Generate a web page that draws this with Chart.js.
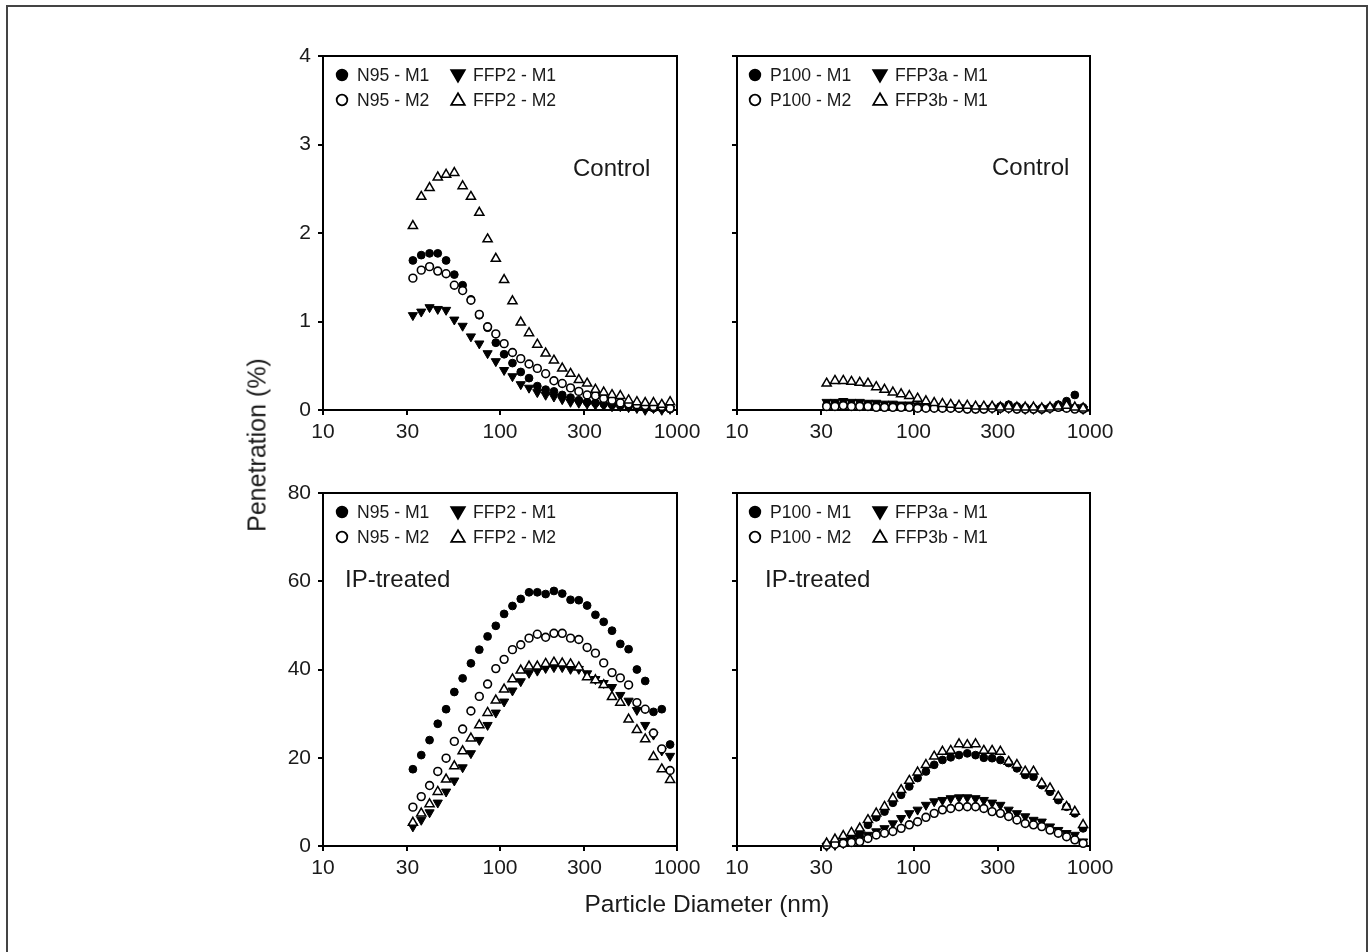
<!DOCTYPE html>
<html>
<head>
<meta charset="utf-8">
<script src="https://cdn.jsdelivr.net/npm/chart.js@4.4.1/dist/chart.umd.min.js"></script>
<style>
  body { margin: 0; background: #fff; width: 1372px; height: 952px; position: relative; overflow: hidden;
         font-family: 'Liberation Sans', Arial, sans-serif; }
  .marco { position: absolute; left: 6px; top: 5px; width: 1358px; height: 1000px; border: 2px solid #444; }
  canvas { position: absolute; }
  .titulo { position: absolute; color: #1a1a1a; white-space: nowrap; font-size: 25px; }
  #tituloY { left: 257px; top: 445px; transform: translate(-50%, -50%) rotate(-90deg); }
  #tituloX { left: 707px; top: 904px; transform: translate(-50%, -50%); font-size: 24.5px; }
</style>
</head>
<body>
<div class="marco"></div>
<canvas id="controlA" width="444" height="424" style="left:263px; top:36px;"></canvas>
<canvas id="controlB" width="443" height="424" style="left:677px; top:36px;"></canvas>
<canvas id="tratadoA" width="444" height="423" style="left:263px; top:473px;"></canvas>
<canvas id="tratadoB" width="443" height="423" style="left:677px; top:473px;"></canvas>
<div class="titulo" id="tituloY">Penetration (%)</div>
<div class="titulo" id="tituloX">Particle Diameter (nm)</div>

<script>
// Diametros de particula (nm), eje x logaritmico
const diametros = [32.2, 35.9, 40.0, 44.5, 49.6, 55.2, 61.5, 68.5, 76.4, 85.1, 94.7, 105.5, 117.6, 131.0, 145.9, 162.5,
  181.1, 201.7, 224.7, 250.3, 278.8, 310.6, 346.0, 385.4, 429.4, 478.3, 532.8, 593.5, 661.2, 736.5, 820.4, 914.0];

const xTicks = [10, 30, 100, 300, 1000];
const yTicksControl = [0, 1, 2, 3, 4];
const yTicksTratado = [0, 20, 40, 60, 80];

// Control - N95 / FFP2
const ctlN95M1 = [1.69, 1.75, 1.77, 1.77, 1.69, 1.53, 1.41, 1.25, 1.07, 0.93, 0.76, 0.63, 0.53, 0.43, 0.36, 0.27,
  0.23, 0.21, 0.17, 0.14, 0.11, 0.09, 0.08, 0.07, 0.06, 0.05, 0.04, 0.04, 0.03, 0.02, 0.02, 0.01];
const ctlN95M2 = [1.49, 1.58, 1.62, 1.57, 1.54, 1.41, 1.35, 1.24, 1.08, 0.94, 0.86, 0.75, 0.65, 0.58, 0.52, 0.47,
  0.41, 0.33, 0.30, 0.25, 0.21, 0.17, 0.16, 0.13, 0.11, 0.08, 0.07, 0.06, 0.05, 0.04, 0.04, 0.02];
const ctlFFP2M1 = [1.07, 1.11, 1.16, 1.14, 1.13, 1.02, 0.95, 0.83, 0.75, 0.64, 0.55, 0.45, 0.38, 0.29, 0.25, 0.20,
  0.17, 0.15, 0.12, 0.09, 0.08, 0.07, 0.06, 0.05, 0.04, 0.04, 0.03, 0.02, 0.00, 0.02, 0.00, 0.01];
const ctlFFP2M2 = [2.08, 2.41, 2.51, 2.63, 2.66, 2.68, 2.53, 2.41, 2.23, 1.93, 1.71, 1.47, 1.23, 0.99, 0.87, 0.74,
  0.64, 0.56, 0.47, 0.41, 0.34, 0.30, 0.23, 0.20, 0.17, 0.16, 0.11, 0.09, 0.08, 0.08, 0.06, 0.09];

// Control - P100 / FFP3
const ctlP100M1 = [0.06, 0.07, 0.07, 0.06, 0.06, 0.06, 0.05, 0.05, 0.05, 0.04, 0.04, 0.04, 0.03, 0.03, 0.03, 0.03,
  0.02, 0.02, 0.02, 0.02, 0.03, 0.04, 0.06, 0.04, 0.03, 0.02, 0.02, 0.03, 0.06, 0.10, 0.17, 0.03];
const ctlP100M2 = [0.04, 0.04, 0.05, 0.04, 0.04, 0.04, 0.03, 0.03, 0.03, 0.03, 0.03, 0.02, 0.02, 0.02, 0.02, 0.02,
  0.02, 0.01, 0.01, 0.01, 0.02, 0.02, 0.02, 0.01, 0.01, 0.01, 0.01, 0.02, 0.03, 0.02, 0.01, 0.01];
const ctlFFP3aM1 = [0.09, 0.09, 0.10, 0.09, 0.09, 0.08, 0.08, 0.07, 0.07, 0.06, 0.06, 0.05, 0.04, 0.04, 0.03, 0.03,
  0.03, 0.02, 0.02, 0.02, 0.02, 0.02, 0.02, 0.02, 0.01, 0.01, 0.01, 0.02, 0.04, 0.05, 0.03, 0.01];
const ctlFFP3bM1 = [0.30, 0.33, 0.33, 0.32, 0.31, 0.30, 0.26, 0.23, 0.20, 0.18, 0.16, 0.13, 0.10, 0.08, 0.07, 0.06,
  0.05, 0.05, 0.04, 0.04, 0.04, 0.03, 0.04, 0.03, 0.03, 0.03, 0.02, 0.03, 0.04, 0.05, 0.03, 0.02];

// IP-treated - N95 / FFP2
const ipN95M1 = [17.4, 20.6, 24.0, 27.7, 31.0, 34.9, 38.0, 41.4, 44.5, 47.5, 49.9, 52.6, 54.4, 56.0, 57.5, 57.5,
  57.1, 57.8, 57.2, 55.8, 55.7, 54.5, 52.4, 50.8, 48.8, 45.8, 44.6, 40.0, 37.4, 30.4, 31.0, 23.0];
const ipN95M2 = [8.8, 11.2, 13.7, 16.9, 19.9, 23.7, 26.5, 30.6, 33.9, 36.7, 40.2, 42.3, 44.5, 45.6, 47.1, 48.0,
  47.3, 48.2, 48.2, 47.1, 46.8, 45.0, 43.7, 41.5, 39.3, 38.1, 36.5, 32.5, 31.0, 25.6, 22.0, 17.1];
const ipFFP2M1 = [4.4, 5.9, 7.6, 9.8, 12.3, 14.8, 17.8, 21.0, 24.0, 27.4, 30.2, 32.7, 35.2, 37.3, 39.2, 39.7,
  40.3, 40.5, 40.5, 40.1, 40.1, 39.1, 37.8, 36.9, 36.0, 34.2, 32.9, 30.8, 27.4, 25.2, 21.6, 20.4];
const ipFFP2M2 = [5.3, 7.4, 9.5, 12.3, 15.1, 18.1, 21.5, 24.4, 27.4, 30.2, 33.0, 35.5, 37.8, 39.8, 40.7, 40.7,
  41.3, 41.6, 41.4, 41.2, 40.5, 38.3, 37.6, 36.5, 33.8, 32.5, 28.7, 26.3, 24.2, 20.2, 17.4, 15.0];

// IP-treated - P100 / FFP3
const ipP100M1 = [0.2, 0.6, 1.0, 1.7, 2.9, 4.8, 6.5, 7.8, 9.8, 11.6, 13.5, 15.4, 16.9, 18.4, 19.5, 20.1,
  20.6, 21.0, 20.6, 20.0, 19.9, 19.5, 18.8, 17.6, 16.1, 15.7, 13.8, 12.3, 10.4, 8.9, 7.4, 4.0];
const ipP100M2 = [0.2, 0.4, 0.6, 0.8, 1.0, 1.7, 2.5, 2.9, 3.3, 4.0, 4.8, 5.5, 6.5, 7.4, 8.2, 8.5,
  8.9, 8.9, 8.9, 8.5, 7.8, 7.4, 6.7, 5.9, 5.1, 4.8, 4.4, 3.6, 2.9, 2.1, 1.4, 0.6];
const ipFFP3aM1 = [0.0, 0.2, 0.6, 1.2, 1.7, 2.5, 3.3, 4.0, 5.1, 6.3, 7.4, 8.2, 9.3, 10.1, 10.4, 10.8,
  11.0, 11.0, 10.8, 10.4, 9.8, 9.3, 8.2, 7.4, 6.7, 5.9, 5.5, 4.4, 3.6, 2.9, 2.5, 1.0];
const ipFFP3bM1 = [0.6, 1.5, 2.3, 3.0, 4.0, 5.9, 7.4, 8.9, 10.8, 12.7, 14.8, 16.7, 18.4, 20.3, 21.4, 21.6,
  23.1, 22.9, 23.1, 21.6, 21.6, 21.4, 19.1, 18.4, 16.9, 16.9, 14.2, 13.1, 11.2, 8.9, 7.8, 4.8];

const fuente = "'Liberation Sans', Arial, sans-serif";

// Estilos de marcador (orden: menor = dibujado encima)
const circuloLleno = { pointStyle: 'circle', rotation: 0, radio: 3.9, fondo: '#000', borde: '#000', grosor: 1, orden: 3 };
const circuloVacio = { pointStyle: 'circle', rotation: 0, radio: 3.9, fondo: '#fff', borde: '#000', grosor: 1.6, orden: 1 };
const trianguloAbajo = { pointStyle: 'triangle', rotation: 180, radio: 5.3, fondo: '#000', borde: '#000', grosor: 1, orden: 2 };
const trianguloVacio = { pointStyle: 'triangle', rotation: 0, radio: 5.3, fondo: '#fff', borde: '#000', grosor: 1.5, orden: 0 };

// Dibuja un marcador igual que Chart.js (para la leyenda)
function marcador(ctx, est, x, y, r) {
  ctx.save();
  ctx.fillStyle = est.fondo;
  ctx.strokeStyle = est.borde;
  ctx.lineWidth = 1.8;
  ctx.beginPath();
  if (est.pointStyle === 'circle') {
    ctx.arc(x, y, r, 0, Math.PI * 2);
  } else {
    let rad = est.rotation * Math.PI / 180;
    for (let k = 0; k < 3; k++) {
      const px = x + Math.sin(rad) * r, py = y - Math.cos(rad) * r;
      if (k === 0) ctx.moveTo(px, py); else ctx.lineTo(px, py);
      rad += 2 * Math.PI / 3;
    }
    ctx.closePath();
  }
  ctx.fill();
  ctx.stroke();
  ctx.restore();
}

const marcoPlugin = {
  id: 'marcoPlugin',
  beforeDatasetsDraw(chart) {
    const { ctx, chartArea: a } = chart;
    ctx.save();
    ctx.strokeStyle = '#000';
    ctx.lineWidth = 2;
    ctx.strokeRect(a.left, a.top, a.right - a.left, a.bottom - a.top);
    ctx.restore();
  },
  afterDraw(chart, args, opts) {
    const { ctx, chartArea: a } = chart;
    // leyenda de dos columnas
    opts.leyenda.forEach((item, i) => {
      const col = i % 2, fila = Math.floor(i / 2);
      const mx = a.left + opts.columnas[col];
      const my = a.top + 19 + fila * 25;
      const r = item.estilo.pointStyle === 'circle' ? 5.3 : 7.8;
      marcador(ctx, item.estilo, mx, my + (item.estilo.pointStyle === 'circle' ? 0 : (item.estilo.rotation ? -1 : 1)), r);
      ctx.save();
      ctx.fillStyle = '#1a1a1a';
      ctx.font = '17.6px ' + fuente;
      ctx.textBaseline = 'middle';
      ctx.fillText(item.texto, mx + 15, my + 1);
      ctx.restore();
    });
    // nota del panel
    ctx.save();
    ctx.fillStyle = '#1a1a1a';
    ctx.font = '24px ' + fuente;
    ctx.textBaseline = 'middle';
    ctx.fillText(opts.nota, a.left + opts.notaX, a.top + opts.notaY);
    ctx.restore();
  }
};

function grafico(canvasId, series, yTicks, etiquetasY, opcionesPanel) {
  const ctx = document.getElementById(canvasId);
  return new Chart(ctx, {
    type: 'scatter',
    data: {
      datasets: series.map(s => ({
        label: s.texto,
        data: diametros.map((d, i) => ({ x: d, y: s.valores[i] })),
        pointStyle: s.estilo.pointStyle,
        rotation: s.estilo.rotation,
        pointRadius: s.estilo.radio,
        backgroundColor: s.estilo.fondo,
        borderColor: s.estilo.borde,
        borderWidth: s.estilo.grosor,
        order: s.estilo.orden,
        clip: false
      }))
    },
    options: {
      responsive: false,
      animation: false,
      devicePixelRatio: 1,
      layout: { padding: { left: 0, top: 20, right: 30, bottom: 0 } },
      plugins: {
        legend: { display: false },
        tooltip: { enabled: false },
        marcoPlugin: opcionesPanel
      },
      scales: {
        x: {
          type: 'logarithmic',
          position: 'bottom',
          min: 10,
          max: 1000,
          afterBuildTicks: scale => { scale.ticks = xTicks.map(v => ({ value: v })); },
          afterFit: scale => { scale.height = 50; },
          ticks: {
            callback: v => String(v),
            color: '#1a1a1a',
            font: { size: 21, family: fuente },
            padding: 5,
            maxRotation: 0,
            autoSkip: false
          },
          grid: { display: true, drawOnChartArea: false, drawTicks: true, tickLength: 5, color: '#000', lineWidth: 2 },
          border: { display: false }
        },
        y: {
          type: 'linear',
          min: yTicks[0],
          max: yTicks[yTicks.length - 1],
          afterBuildTicks: scale => { scale.ticks = yTicks.map(v => ({ value: v })); },
          afterFit: scale => { scale.width = 60; },
          ticks: {
            display: etiquetasY,
            color: '#1a1a1a',
            font: { size: 21, family: fuente },
            padding: 7
          },
          grid: { display: true, drawOnChartArea: false, drawTicks: true, tickLength: 5, color: '#000', lineWidth: 2 },
          border: { display: false }
        }
      }
    },
    plugins: [marcoPlugin]
  });
}

grafico('controlA', [
  { texto: 'N95 - M1', valores: ctlN95M1, estilo: circuloLleno },
  { texto: 'FFP2 - M1', valores: ctlFFP2M1, estilo: trianguloAbajo },
  { texto: 'N95 - M2', valores: ctlN95M2, estilo: circuloVacio },
  { texto: 'FFP2 - M2', valores: ctlFFP2M2, estilo: trianguloVacio }
], yTicksControl, true, {
  leyenda: [
    { texto: 'N95 - M1', estilo: circuloLleno }, { texto: 'FFP2 - M1', estilo: trianguloAbajo },
    { texto: 'N95 - M2', estilo: circuloVacio }, { texto: 'FFP2 - M2', estilo: trianguloVacio }
  ],
  columnas: [19, 135], nota: 'Control', notaX: 250, notaY: 113
});

grafico('controlB', [
  { texto: 'P100 - M1', valores: ctlP100M1, estilo: circuloLleno },
  { texto: 'FFP3a - M1', valores: ctlFFP3aM1, estilo: trianguloAbajo },
  { texto: 'P100 - M2', valores: ctlP100M2, estilo: circuloVacio },
  { texto: 'FFP3b - M1', valores: ctlFFP3bM1, estilo: trianguloVacio }
], yTicksControl, false, {
  leyenda: [
    { texto: 'P100 - M1', estilo: circuloLleno }, { texto: 'FFP3a - M1', estilo: trianguloAbajo },
    { texto: 'P100 - M2', estilo: circuloVacio }, { texto: 'FFP3b - M1', estilo: trianguloVacio }
  ],
  columnas: [18, 143], nota: 'Control', notaX: 255, notaY: 112
});

grafico('tratadoA', [
  { texto: 'N95 - M1', valores: ipN95M1, estilo: circuloLleno },
  { texto: 'FFP2 - M1', valores: ipFFP2M1, estilo: trianguloAbajo },
  { texto: 'N95 - M2', valores: ipN95M2, estilo: circuloVacio },
  { texto: 'FFP2 - M2', valores: ipFFP2M2, estilo: trianguloVacio }
], yTicksTratado, true, {
  leyenda: [
    { texto: 'N95 - M1', estilo: circuloLleno }, { texto: 'FFP2 - M1', estilo: trianguloAbajo },
    { texto: 'N95 - M2', estilo: circuloVacio }, { texto: 'FFP2 - M2', estilo: trianguloVacio }
  ],
  columnas: [19, 135], nota: 'IP-treated', notaX: 22, notaY: 87
});

grafico('tratadoB', [
  { texto: 'P100 - M1', valores: ipP100M1, estilo: circuloLleno },
  { texto: 'FFP3a - M1', valores: ipFFP3aM1, estilo: trianguloAbajo },
  { texto: 'P100 - M2', valores: ipP100M2, estilo: circuloVacio },
  { texto: 'FFP3b - M1', valores: ipFFP3bM1, estilo: trianguloVacio }
], yTicksTratado, false, {
  leyenda: [
    { texto: 'P100 - M1', estilo: circuloLleno }, { texto: 'FFP3a - M1', estilo: trianguloAbajo },
    { texto: 'P100 - M2', estilo: circuloVacio }, { texto: 'FFP3b - M1', estilo: trianguloVacio }
  ],
  columnas: [18, 143], nota: 'IP-treated', notaX: 28, notaY: 87
});
</script>
</body>
</html>
